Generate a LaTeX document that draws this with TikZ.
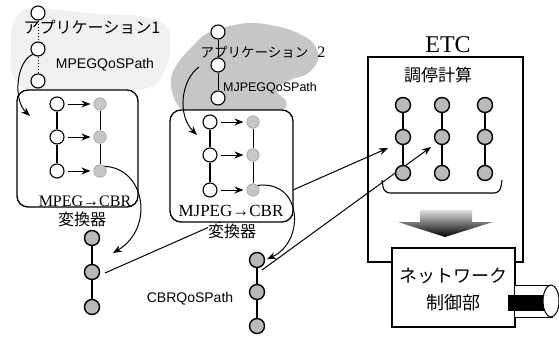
\documentclass[tikz,border=0pt]{standalone}
\usepackage{fontspec}
\setmainfont{Liberation Serif}
\newfontfamily\jp{Noto Sans CJK JP}
\newfontfamily\hv{Liberation Sans}
\usetikzlibrary{arrows.meta,shapes.geometric}
\begin{document}
\begin{tikzpicture}[x=1pt,y=-1pt,
  wc/.style={circle,draw,fill=white,minimum size=14pt,inner sep=0pt,line width=1.1pt},
  gb/.style={circle,draw,fill=gray!55,minimum size=15pt,inner sep=0pt,line width=1.4pt},
  gs/.style={circle,draw=gray!75,fill=gray!45,minimum size=12.5pt,inner sep=0pt,line width=0.6pt},
  arr/.style={-{Stealth[length=9pt,width=7pt]},line width=1pt},
  lnk/.style={line width=1.1pt},
  rbox/.style={draw,rounded corners=11pt,fill=white,line width=1.3pt,inner sep=0pt},
  sqbox/.style={draw,line width=1.3pt,inner sep=0pt},
  lbl/.style={inner sep=0pt},
  jpl/.style={inner sep=0pt,font=\jp\fontsize{16}{16}\selectfont},
  sfl/.style={inner sep=0pt,font=\hv\fontsize{14}{14}\selectfont},
  rml/.style={inner sep=0pt,font=\fontsize{18}{18}\selectfont}
]
\useasboundingbox (0,0) rectangle (559,338);

% clouds
\fill[gray!12] plot[smooth cycle,tension=0.7] coordinates{(14,22)(30,8)(60,10)(100,14)(140,16)(166,26)(170,48)(164,72)(148,88)(100,93)(40,93)(14,78)(11,48)};
\fill[gray!45] plot[smooth cycle,tension=0.6] coordinates{(174,98)(171,78)(180,60)(193,46)(206,34)(226,27)(250,23)(276,26)(298,33)(314,44)(318,60)(307,74)(290,80)(276,90)(286,101)(282,110)(250,113)(210,113)(185,111)};

% long connectors (behind the converter boxes)
\coordinate (s1) at (105,273);
\coordinate (t1) at (388,148);
\coordinate (s2) at (262,270);
\coordinate (t2) at (431,147);
\draw[arr] (s1) -- (t1);

% ETC box
\node[sqbox,minimum width=155pt,minimum height=205pt] (etc) at (445.5,159.5) {};
\node[lbl,font=\fontsize{24}{24}\selectfont] (etcl) at (448,45) {ETC};
\node[jpl,font=\jp\fontsize{17}{17}\selectfont] (calc) at (438,75) {調停計算};

% converter boxes
\node[rbox,minimum width=121pt,minimum height=117pt] (box1) at (77.5,148.5) {};
\node[rbox,minimum width=123pt,minimum height=112pt] (box2) at (231.5,166) {};

\draw[arr] (s2) -- (t2);

% application 1
\node[wc] (a11) at (38,13) {};
\node[wc] (a12) at (38,49) {};
\node[wc] (a13) at (38,81) {};
\draw[dotted,line width=1pt] (a11) -- (a12);
\draw[dotted,line width=1pt] (a12) -- (a13);
\node[jpl] (app1) at (92,27) {アプリケーション1};
\node[sfl] (mpegp) at (105,65) {MPEGQoSPath};

% application 2
\node[wc] (b11) at (218,32) {};
\node[wc] (b12) at (218,65) {};
\node[wc] (b13) at (218,98) {};
\draw[line width=0.8pt] (b11) -- (b12);
\draw[line width=0.8pt] (b12) -- (b13);
\node[lbl] (app2) at (263,52) {{\jp\fontsize{13.5}{13.5}\selectfont アプリケーション}\hspace{9pt}{\fontsize{16}{16}\selectfont 2}};
\node[sfl,font=\hv\fontsize{12.5}{12.5}\selectfont] (mjpegp) at (270,88) {MJPEGQoSPath};

% inside box 1
\foreach \i/\y in {1/104,2/137,3/171}{
  \node[wc] (w1\i) at (57,\y) {};
  \node[gs] (g1\i) at (100,\y) {};
  \draw[arr] ([xshift=3pt]w1\i.east) -- ([xshift=-3pt]g1\i.west);
}
\draw[lnk] (w11) -- (w12) -- (w13);
\draw[line width=0.8pt] (g11) -- (g12) -- (g13);
\node[rml,font=\fontsize{16}{16}\selectfont] (conv1) at (85,201) {MPEG→CBR};
\node[jpl] (conv1b) at (82,219) {変換器};

% inside box 2
\foreach \i/\y in {1/122,2/155,3/190}{
  \node[wc] (w2\i) at (210,\y) {};
  \node[gs] (g2\i) at (253,\y) {};
  \draw[arr] ([xshift=3pt]w2\i.east) -- ([xshift=-3pt]g2\i.west);
}
\draw[lnk] (w21) -- (w22) -- (w23);
\draw[line width=0.8pt] (g21) -- (g22) -- (g23);
\node[rml,font=\fontsize{17}{17}\selectfont] (conv2) at (231,211) {MJPEG→CBR};
\node[jpl,fill=white,inner sep=0.5pt] (conv2b) at (232,231) {変換器};

% CBR paths
\node[gb] (cl1) at (92,238) {};
\node[gb] (cl2) at (92,272) {};
\node[gb] (cl3) at (92,307) {};
\draw[lnk] (cl1) -- (cl2) -- (cl3);
\node[gb] (cr1) at (257,260) {};
\node[gb] (cr2) at (257,292) {};
\node[gb] (cr3) at (257,326) {};
\draw[lnk] (cr1) -- (cr2) -- (cr3);
\node[sfl] (cbrp) at (190,299) {CBRQoSPath};

% curved arrows
\coordinate (tA1) at (30,116);
\draw[arr] (a12.south west) .. controls (16,62) and (13,100) .. (tA1);
\coordinate (sA3) at (199,67);
\coordinate (tA3) at (197,135);
\draw[arr] (sA3) .. controls (181,80) and (177,115) .. (tA3);
\coordinate (tA2) at (113,253);
\draw[arr] (g13.north east) .. controls (145,168) and (155,228) .. (tA2);
\draw[arr,shorten >=2pt] (g23.north east) .. controls (303,180) and (305,242) .. (cr1.east);

% ETC nodes
\foreach \c/\x in {1/403,2/442,3/485}{
  \node[gb] (e\c1) at (\x,105) {};
  \node[gb] (e\c2) at (\x,137) {};
  \node[gb] (e\c3) at (\x,173) {};
  \draw[lnk] (e\c1) -- (e\c2) -- (e\c3);
}
\draw[line width=1.1pt,rounded corners=6pt] (382,180) -- (384,193) -- (500,193) -- (502,180);

% gradient arrow
\shade[top color=gray!25,bottom color=black] (420,210) -- (472,210) -- (472,222) -- (493,222) -- (445,237) -- (398,222) -- (420,222) -- cycle;

% network control
\node[sqbox,fill=white,minimum width=123pt,minimum height=79pt] (net) at (453.5,287.5) {};
\node[lbl,align=center,font=\jp\fontsize{18}{27}\selectfont] (netl) at (453,289) {ネットワーク\\制御部};

% cylinder
\draw[line width=1pt,fill=white] (515,285) -- (552,285) -- (552,317) -- (515,317);
\fill (508,295) rectangle (546,311);
\node[draw,ellipse,fill=white,line width=1pt,minimum width=16pt,minimum height=32pt,inner sep=0pt] (cyl) at (551,301) {};
\end{tikzpicture}
\end{document}
